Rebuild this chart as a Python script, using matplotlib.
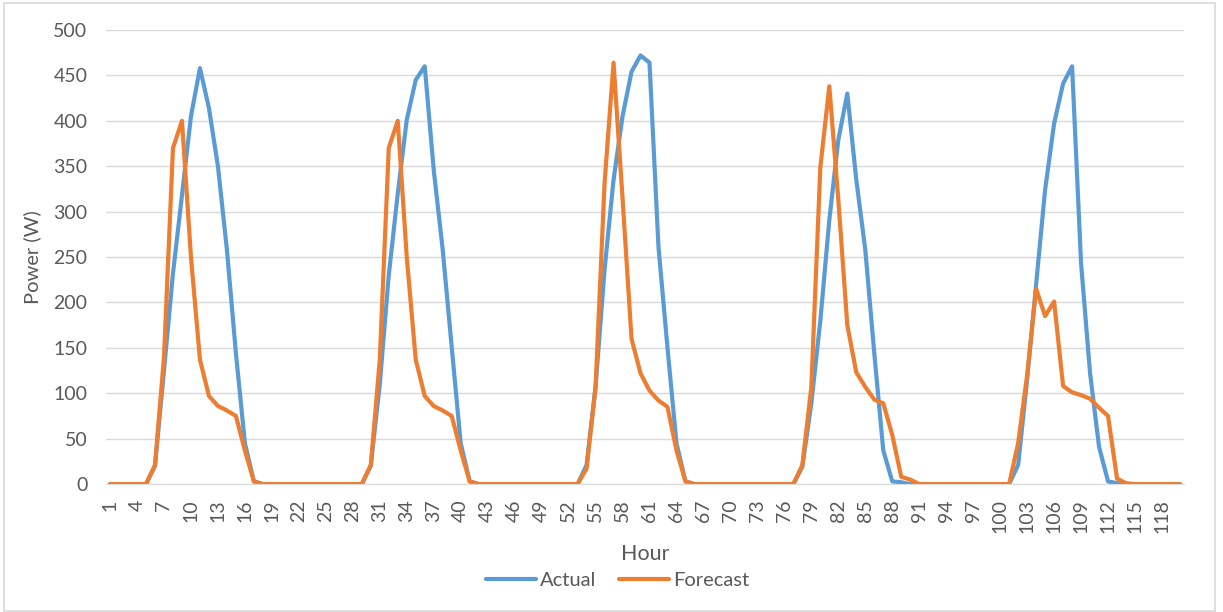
import matplotlib
matplotlib.use("Agg")
import matplotlib.pyplot as plt
from matplotlib.patches import Rectangle

hours = list(range(1, 121))

actual = [
    0, 0, 0, 0, 0,
    20, 125, 232, 318, 405, 458, 414, 350, 258, 144, 45, 3,
    0, 0, 0, 0, 0, 0, 0, 0, 0, 0, 0, 0,
    20, 110, 230, 320, 401, 445, 460, 346, 258, 151, 45, 3,
    0, 0, 0, 0, 0, 0, 0, 0, 0, 0, 0, 0,
    21, 107, 236, 335, 405, 454, 472, 464, 261, 150, 45, 3,
    0, 0, 0, 0, 0, 0, 0, 0, 0, 0, 0, 0,
    19, 89, 180, 291, 379, 430, 335, 258, 144, 37, 3, 2,
    0, 0, 0, 0, 0, 0, 0, 0, 0, 0, 0, 0,
    21, 115, 220, 324, 397, 441, 460, 243, 122, 41, 3, 1,
    0, 0, 0, 0, 0, 0, 0,
]

forecast = [
    0, 0, 0, 0, 0,
    21, 140, 370, 400, 250, 137, 97, 86, 81, 75, 37, 3,
    0, 0, 0, 0, 0, 0, 0, 0, 0, 0, 0, 0,
    21, 137, 370, 400, 250, 137, 97, 86, 81, 75, 37, 3,
    0, 0, 0, 0, 0, 0, 0, 0, 0, 0, 0, 0,
    17, 107, 331, 464, 315, 160, 122, 103, 92, 85, 37, 3,
    0, 0, 0, 0, 0, 0, 0, 0, 0, 0, 0, 0,
    21, 107, 349, 438, 313, 175, 123, 107, 93, 89, 54, 8,
    5, 0, 0, 0, 0, 0, 0, 0, 0, 0, 0, 0,
    45, 120, 215, 185, 201, 108, 101, 98, 94, 84, 75, 6,
    1, 0, 0, 0, 0, 0, 0,
]

y_ticks = [0, 50, 100, 150, 200, 250, 300, 350, 400, 450, 500]
x_ticks = list(range(1, 121, 3))

plt.rcParams["font.family"] = ["Lato", "DejaVu Sans"]
text_color = "#595959"
grid_color = "#D9D9D9"

fig = plt.figure(figsize=(12.23, 6.12), dpi=100)
ax = fig.add_axes([0.0863, 0.209, 0.8822, 0.742])

ax.plot(hours, actual, color="#5B9BD5", lw=3.0, label="Actual",
        solid_joinstyle="round", solid_capstyle="round")
ax.plot(hours, forecast, color="#ED7D31", lw=3.0, label="Forecast",
        solid_joinstyle="round", solid_capstyle="round")

ax.set_xlim(0.5, 120.5)
ax.set_ylim(0, 500)
ax.set_yticks(y_ticks)
ax.set_xticks(x_ticks)
ax.set_xticklabels([str(h) for h in x_ticks], rotation=90)
ax.grid(axis="y", color=grid_color, lw=1.0)
ax.set_axisbelow(True)
for side in ("top", "right", "left"):
    ax.spines[side].set_visible(False)
ax.spines["bottom"].set_color(grid_color)
ax.tick_params(axis="both", length=0, colors=text_color, labelsize=14)
ax.tick_params(axis="y", pad=13)
ax.tick_params(axis="x", pad=11)

ax.set_ylabel("Power (W)", fontsize=14.5, color=text_color, labelpad=9)
ax.set_xlabel("Hour", fontsize=15.5, color=text_color, labelpad=8)

fig.legend(loc="center", bbox_to_anchor=(0.505, 0.052), ncol=2, frameon=False,
           fontsize=14.5, labelcolor=text_color, handlelength=2.5,
           columnspacing=1.1, handletextpad=0.2)

fig.patches.append(Rectangle((0.0033, 0.0016), 0.990, 0.9934, transform=fig.transFigure,
                             fill=False, edgecolor=grid_color, lw=1.2))

fig.savefig("out.png", dpi=100)
